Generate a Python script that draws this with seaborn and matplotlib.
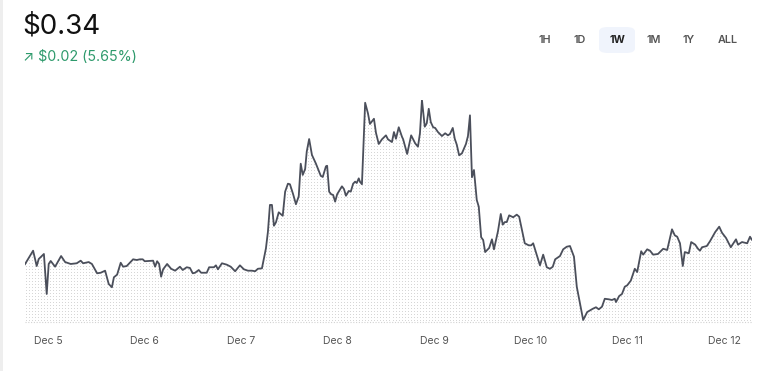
import numpy as np
import pandas as pd
import matplotlib
matplotlib.use("Agg")
import matplotlib.pyplot as plt
from matplotlib.patches import FancyBboxPatch
import seaborn as sns

# ---- data (hours since Dec 5 00:00, price in USD) ----
hours = [-5.8, -3.7, -2.8, -2.3, -1.0, -0.3, 0.2, 0.7, 1.8, 3.3, 4.3, 5.7, 7.2, 8.2, 8.8, 10.2, 11.0,
         12.3, 13.2, 14.3, 15.2, 16.0, 16.5, 17.3, 18.2, 18.8, 19.7, 21.3, 22.2, 23.0, 23.7, 24.2,
         26.3, 26.8, 27.3, 27.8, 28.3, 28.8, 29.8, 30.8, 31.8, 33.0, 33.7, 34.7, 35.5, 36.2, 36.8,
         37.7, 38.3, 39.7, 40.3, 41.5, 42.0, 42.5, 43.5, 44.7, 45.7, 46.8, 48.0, 49.0, 50.0, 51.0,
         51.8, 52.5, 53.5, 54.5, 55.0, 55.5, 56.0, 56.5, 57.0, 57.7, 58.7, 59.3, 60.0, 60.5, 61.3,
         62.0, 62.7, 63.2, 63.7, 64.3, 64.7, 65.3, 66.0, 67.0, 68.2, 68.7, 69.5, 69.8, 70.3, 70.8,
         71.3, 71.8, 72.3, 73.5, 74.0, 74.5, 75.2, 75.7, 76.3, 76.8, 77.2, 77.7, 78.0, 78.5, 79.3,
         80.0, 80.5, 81.5, 82.0, 82.7, 83.5, 84.5, 85.0, 86.0, 86.5, 87.0, 87.7, 88.5, 88.8, 89.8,
         90.8, 91.8, 92.5, 93.0, 93.5, 94.2, 94.7, 95.2, 95.7, 96.3, 96.8, 97.5, 98.5, 99.3, 100.0,
         100.5, 101.2, 101.7, 102.2, 102.8, 103.5, 104.5, 105.0, 105.5, 106.0, 106.5, 107.2, 107.7,
         108.3, 108.8, 109.3, 110.3, 111.0, 111.5, 112.5, 113.2, 113.7, 114.2, 114.7, 115.3, 116.3,
         117.2, 117.8, 119.2, 120.2, 120.8, 121.3, 123.0, 123.8, 124.7, 125.5, 126.2, 126.8, 128.0,
         128.8, 129.7, 130.5, 131.5, 132.2, 133.8, 134.8, 136.2, 137.0, 137.7, 138.5, 139.2, 140.2,
         141.0, 141.7, 142.0, 142.8, 143.5, 144.2, 144.8, 145.7, 146.7, 147.3, 148.3, 148.8, 149.8,
         150.5, 151.3, 152.5, 153.8, 154.8, 156.0, 156.7, 157.3, 158.0, 158.7, 159.2, 160.2, 160.8,
         161.8, 162.5, 163.0, 163.5, 164.7, 165.5, 166.8, 167.8, 168.5, 169.5, 170.7, 172.0, 172.5,
         173.5, 174.8, 175.5, 176.0]

price = [0.3220, 0.3322, 0.3210, 0.3261, 0.3298, 0.3006, 0.3225, 0.3247, 0.3205, 0.3283, 0.3239,
         0.3225, 0.3230, 0.3249, 0.3230, 0.3239, 0.3225, 0.3157, 0.3161, 0.3176, 0.3079, 0.3055,
         0.3128, 0.3147, 0.3234, 0.3205, 0.3210, 0.3259, 0.3254, 0.3259, 0.3259, 0.3245, 0.3249,
         0.3205, 0.3245, 0.3225, 0.3132, 0.3186, 0.3225, 0.3190, 0.3176, 0.3205, 0.3181, 0.3201,
         0.3196, 0.3157, 0.3161, 0.3181, 0.3161, 0.3161, 0.3201, 0.3201, 0.3215, 0.3186, 0.3230,
         0.3220, 0.3205, 0.3172, 0.3215, 0.3186, 0.3176, 0.3176, 0.3172, 0.3190, 0.3193, 0.3339,
         0.3461, 0.3656, 0.3656, 0.3504, 0.3529, 0.3602, 0.3577, 0.3753, 0.3811, 0.3807, 0.3734,
         0.3661, 0.3719, 0.3957, 0.3875, 0.3918, 0.4045, 0.4137, 0.4021, 0.3957, 0.3869, 0.3860,
         0.3938, 0.3942, 0.3753, 0.3734, 0.3729, 0.3680, 0.3734, 0.3792, 0.3772, 0.3723, 0.3758,
         0.3753, 0.3811, 0.3826, 0.3816, 0.3850, 0.3826, 0.3807, 0.4402, 0.4325, 0.4247, 0.4285,
         0.4183, 0.4101, 0.4135, 0.4164, 0.4135, 0.4115, 0.4188, 0.4139, 0.4223, 0.4154, 0.4135,
         0.4028, 0.4164, 0.4106, 0.4081, 0.4179, 0.4422, 0.4227, 0.4252, 0.4358, 0.4261, 0.4223,
         0.4218, 0.4188, 0.4159, 0.4179, 0.4164, 0.4174, 0.4218, 0.4139, 0.4096, 0.4018, 0.4033,
         0.4101, 0.4159, 0.4310, 0.3858, 0.3911, 0.3692, 0.3643, 0.3420, 0.3400, 0.3312, 0.3342,
         0.3405, 0.3332, 0.3464, 0.3590, 0.3512, 0.3531, 0.3531, 0.3580, 0.3566, 0.3585, 0.3570,
         0.3376, 0.3361, 0.3361, 0.3376, 0.3215, 0.3293, 0.3201, 0.3190, 0.3205, 0.3259, 0.3283,
         0.3332, 0.3351, 0.3356, 0.3278, 0.3059, 0.2816, 0.2874, 0.2898, 0.2909, 0.2894, 0.2913,
         0.2971, 0.2967, 0.2962, 0.2971, 0.2947, 0.2991, 0.3006, 0.3059, 0.3069, 0.3103, 0.3190,
         0.3166, 0.3318, 0.3293, 0.3332, 0.3322, 0.3293, 0.3298, 0.3336, 0.3327, 0.3478, 0.3434,
         0.3424, 0.3376, 0.3210, 0.3312, 0.3303, 0.3385, 0.3366, 0.3336, 0.3322, 0.3347, 0.3356,
         0.3391, 0.3458, 0.3497, 0.3453, 0.3415, 0.3347, 0.3405, 0.3366, 0.3385, 0.3376, 0.3424,
         0.3400]

tick_days = [0, 1, 2, 3, 4, 5, 6, 7]
tick_labels = ["Dec 5", "Dec 6", "Dec 7", "Dec 8", "Dec 9", "Dec 10", "Dec 11", "Dec 12"]
ranges = ["1H", "1D", "1W", "1M", "1Y", "ALL"]
active_range = "1W"
current_price = "$0.34"
change_text = "\u2197 $0.02 (5.65%)"

df = pd.DataFrame({"hours": hours, "price": price})

sns.set_style("white")
plt.rcParams["font.family"] = ["Inter", "DejaVu Sans"]

W, H = 768, 371
fig = plt.figure(figsize=(W / 100, H / 100), dpi=100)
fig.patch.set_facecolor("white")

# axes placement (pixels)
left_px, right_px, top_px, bot_px = 24.7, 752, 100, 322
ax = fig.add_axes([left_px / W, 1 - bot_px / H, (right_px - left_px) / W, (bot_px - top_px) / H])
ax.set_facecolor("none")

ymin = 0.34 - 82 * 0.00073
ymax = 0.34 + 140 * 0.00073
xmin, xmax = min(hours), max(hours)
ax.set_xlim(xmin, xmax)
ax.set_ylim(ymin, ymax)

# dotted area fill
poly = ax.fill_between(df["hours"], df["price"], ymin, facecolor="none", edgecolor="none")
pw = int(round(right_px - left_px))
ph = int(round(bot_px - top_px))
dots = np.zeros((ph, pw, 4))
dots[1::3, 1::3, :3] = 0.84
dots[1::3, 1::3, 3] = 1.0
im = ax.imshow(dots, extent=(xmin, xmax, ymin, ymax), aspect="auto",
               interpolation="nearest", origin="upper", zorder=1)
im.set_clip_path(poly.get_paths()[0], transform=ax.transData)

sns.lineplot(data=df, x="hours", y="price", ax=ax, color="#4b4f5b", linewidth=1.3,
             estimator=None, zorder=3)

# baseline
ax.axhline(ymin, color="#d2d2d2", linewidth=0.8, linestyle=(0, (1, 1.5)), zorder=2, clip_on=False)

for s in ax.spines.values():
    s.set_visible(False)
ax.set_yticks([])
ax.set_xticks([d * 24.15 for d in tick_days])
ax.set_xticklabels(tick_labels)
ax.tick_params(axis="x", length=0, pad=10, labelsize=7.5, labelcolor="#555555")
ax.set_xlabel("")
ax.set_ylabel("")

# header texts
fig.text(22 / W, 1 - 27 / H, current_price, fontsize=20, color="#111111", va="center", ha="left")
fig.text(23 / W, 1 - 57 / H, change_text, fontsize=10.3, color="#2e9a6c", va="center", ha="left",
         family=["Inter", "DejaVu Sans"])

# range buttons
btn_x = [545, 580, 617, 654, 689, 728]
for lab, bx in zip(ranges, btn_x):
    if lab == active_range:
        fig.patches.append(FancyBboxPatch(((bx - 18) / W, 1 - 53 / H), 36 / W, 26 / H,
                                          boxstyle="round,pad=0,rounding_size=0.012",
                                          transform=fig.transFigure, facecolor="#f0f4fc",
                                          edgecolor="none", zorder=0))
    fig.text(bx / W, 1 - 40 / H, lab, fontsize=7.8, color="#222222" if lab == active_range else "#555555",
             fontweight="bold" if lab == active_range else "semibold", ha="center", va="center")

# left card border
fig.patches.append(plt.Rectangle((0, 0), 2.5 / W, 1, transform=fig.transFigure,
                                 facecolor="#eeeeee", edgecolor="none"))

fig.savefig("out.png", dpi=100)
